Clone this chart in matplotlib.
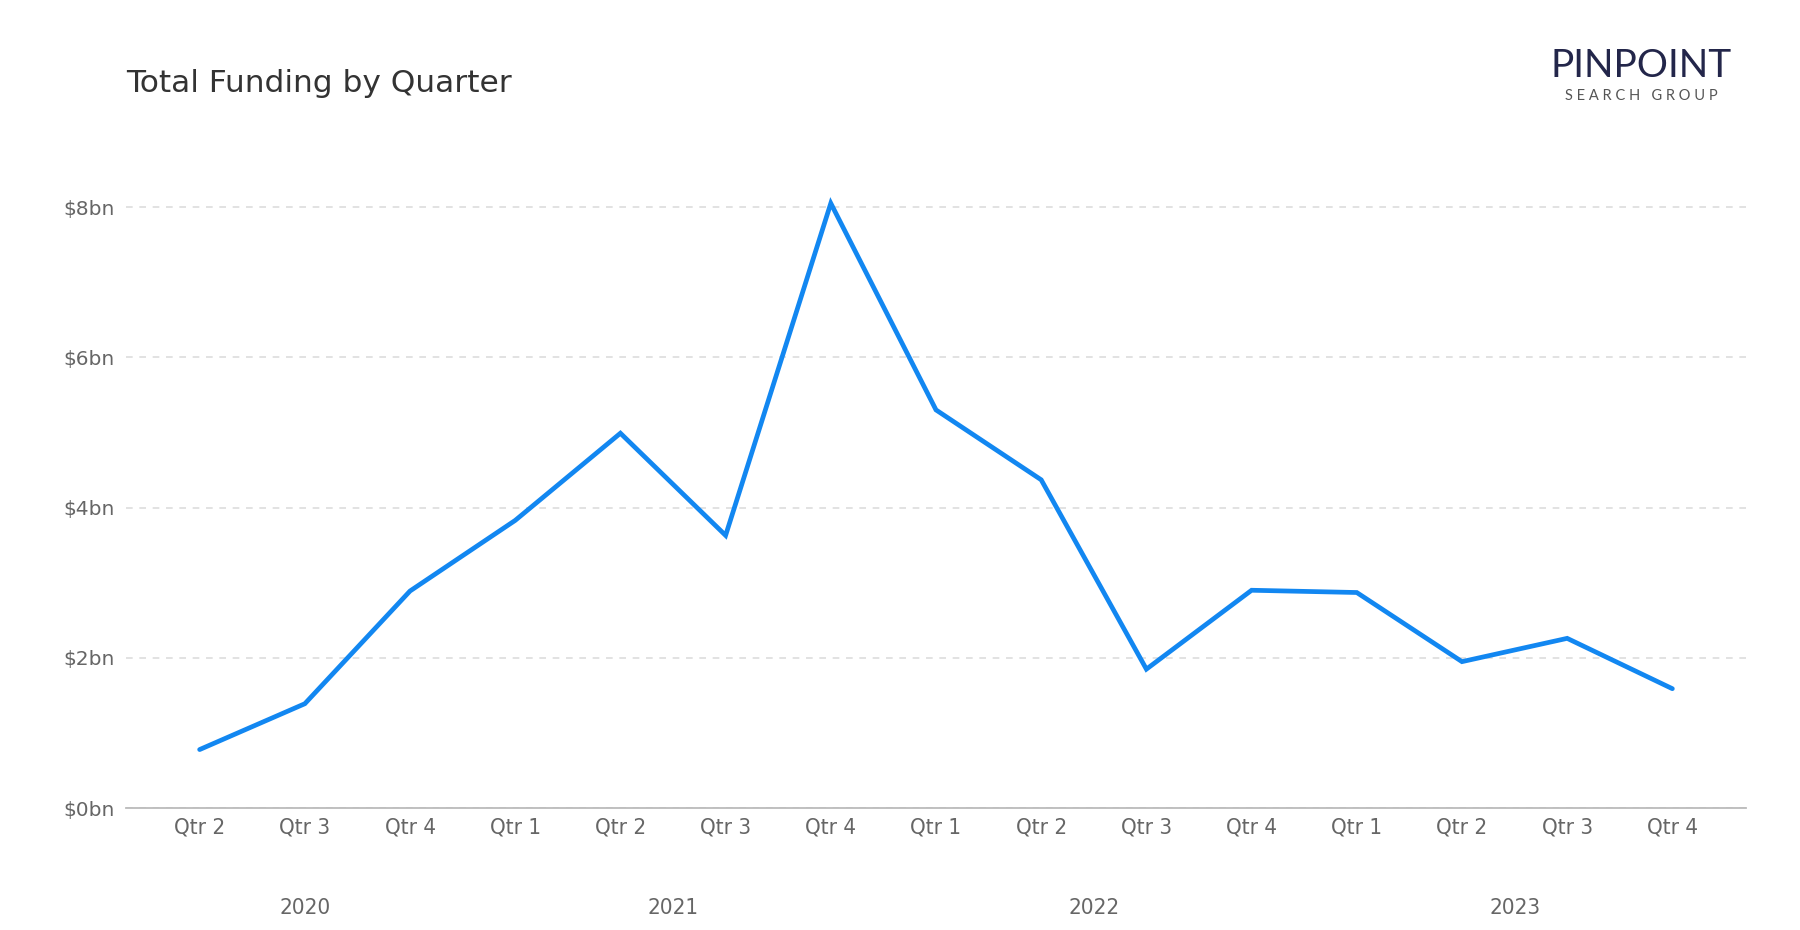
import matplotlib
matplotlib.use("Agg")
import matplotlib.pyplot as plt
import numpy as np

# quarterly totals, $bn
quarters = ["Qtr 2", "Qtr 3", "Qtr 4",
            "Qtr 1", "Qtr 2", "Qtr 3", "Qtr 4",
            "Qtr 1", "Qtr 2", "Qtr 3", "Qtr 4",
            "Qtr 1", "Qtr 2", "Qtr 3", "Qtr 4"]
funding = [0.78, 1.39, 2.89, 3.83, 4.99, 3.63, 8.05, 5.30,
           4.37, 1.85, 2.90, 2.87, 1.95, 2.26, 1.59]
years = ["2020", "2021", "2022", "2023"]
quarters_per_year = [3, 4, 4, 4]
y_ticks = [0, 2, 4, 6, 8]

LINE = "#1287f1"
TEXT = "#666666"

fig = plt.figure(figsize=(18, 9.3), dpi=100)
ax = fig.add_axes([0.07, 0.131, 0.90, 0.6787])

x = np.arange(len(funding))
ax.plot(x, funding, color=LINE, lw=3.4, solid_capstyle="round", solid_joinstyle="miter", zorder=3)

ax.set_xlim(-0.7, len(funding) - 0.3)
ax.set_ylim(0, 8.4)
ax.set_yticks(y_ticks)
ax.set_yticklabels([f"${v}bn" for v in y_ticks])
ax.set_xticks(x)
ax.set_xticklabels(quarters, fontstretch="condensed")

ax.grid(axis="y", color="#dddddd", ls=(0, (4, 4)), lw=1.2)
ax.set_axisbelow(True)
for s in ["top", "right", "left"]:
    ax.spines[s].set_visible(False)
ax.spines["bottom"].set_color("#bbbbbb")
ax.spines["bottom"].set_linewidth(1.3)
ax.tick_params(axis="x", length=0, labelsize=16, labelcolor=TEXT, pad=7)
ax.tick_params(axis="y", length=0, labelsize=14.5, labelcolor=TEXT, pad=8)

# year labels centred under their quarters
start = 0
for yr, n in zip(years, quarters_per_year):
    centre = start + (n - 1) / 2
    ax.text(centre, -0.158, yr, transform=ax.get_xaxis_transform(),
            ha="center", va="center", fontsize=16, color=TEXT, fontstretch="condensed")
    start += n

fig.text(0.07, 0.91, "Total Funding by Quarter", fontsize=22.5, color="#333333",
         ha="left", va="center")

# logo
fig.text(0.912, 0.929, "PINPOINT", fontsize=28, color="#23264a", ha="center", va="center",
         fontfamily="Lato", fontweight="normal")
fig.text(0.912, 0.897, "S E A R C H   G R O U P", fontsize=10.5, color="#555555",
         ha="center", va="center", fontfamily="Lato", fontweight="normal")

fig.savefig("out.png", dpi=100)
